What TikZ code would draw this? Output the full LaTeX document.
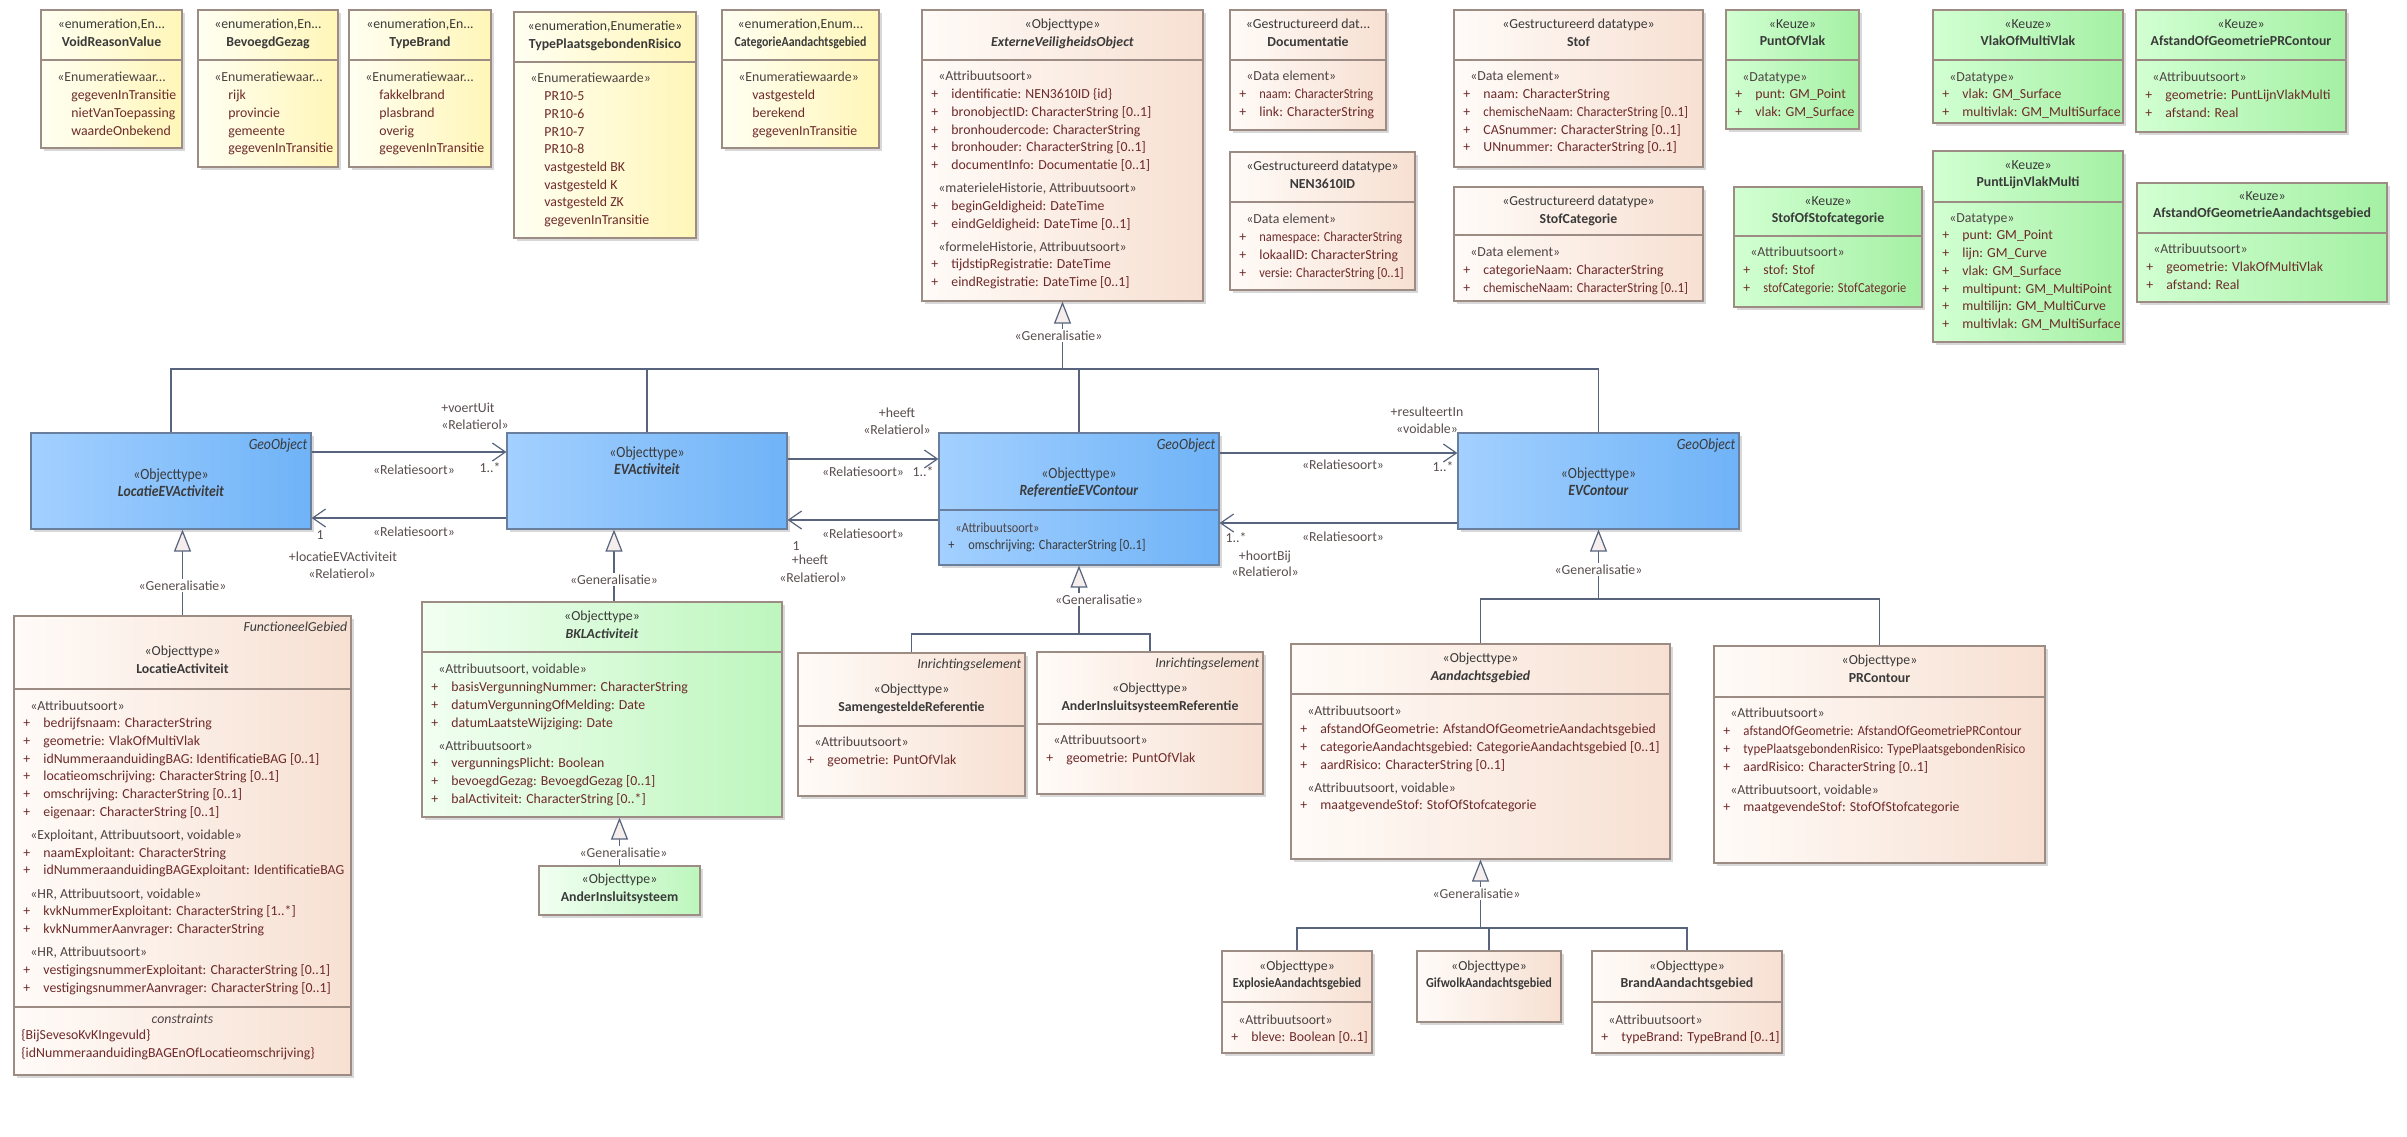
\documentclass[tikz,border=0pt]{standalone}
\usepackage{fontspec}
\setmainfont{Carlito}
\newfontfamily\narrowfont{Carlito}[FakeStretch=0.88]
\usepackage{graphicx}
\usepackage{xcolor}
\usetikzlibrary{positioning, arrows.meta, fit, shadows}
\definecolor{enumL}   {HTML}{FFFFF2}
\definecolor{enumR}   {HTML}{FFF6B8}
\definecolor{peachL}  {HTML}{FFFBF8}
\definecolor{peachR}  {HTML}{F7E0D2}
\definecolor{blueL}   {HTML}{A3D0FF}
\definecolor{blueR}   {HTML}{6FB3F7}
\definecolor{greenL}  {HTML}{F2FFF2}
\definecolor{greenR}  {HTML}{BDF6BD}
\definecolor{keuzeL}  {HTML}{D2FFD2}
\definecolor{keuzeR}  {HTML}{A4F0A4}
\definecolor{boxline} {HTML}{9C8C84}
\definecolor{blueline}{HTML}{6A7E9E}
\definecolor{namecol} {HTML}{3A3A3A}
\definecolor{attrcol} {HTML}{6E2A2A}
\definecolor{stcol}   {HTML}{4E4444}
\definecolor{connline}{HTML}{58647E}
\definecolor{lblcol}  {HTML}{5A4E4E}
\definecolor{trifill} {HTML}{F5EEEC}
\newcommand{\umlfont}{\fontsize{6.9}{8.85}\selectfont}
\newcommand{\umlnarrow}{\narrowfont\fontsize{7.8}{8.85}\selectfont}
\newcommand{\umlsmall}{\narrowfont\fontsize{7.0}{8.85}\selectfont}
\newcommand{\attr}[1]{\makebox[10pt][l]{+}#1}
\newcommand{\grp}[1]{\hspace*{3.5pt}{\color{stcol}#1}}
\newcommand{\val}[1]{\hspace*{10.5pt}#1}
\newcommand{\sqz}[2][0.9]{\scalebox{#1}[1]{#2}}
\newcommand{\umlbox}[5]{%
  \node[#2, fit={(#3) (#4)}] (#1) {};
  \draw[divline] (#1.west |- 0,#5) -- (#1.east |- 0,#5);}
\tikzset{
  umlbase/.style={draw=boxline, line width=0.6pt, inner sep=0pt,
    drop shadow={shadow xshift=1.5pt, shadow yshift=-1.5pt, opacity=0.3}},
  enumbox/.style ={umlbase, left color=enumL,  right color=enumR},
  peachbox/.style={umlbase, left color=peachL, right color=peachR},
  bluebox/.style ={umlbase, draw=blueline, left color=blueL, right color=blueR},
  greenbox/.style={umlbase, left color=greenL, right color=greenR},
  keuzebox/.style={umlbase, left color=keuzeL, right color=keuzeR},
  divline/.style={draw=boxline, line width=0.6pt},
  headtxt/.style={anchor=north, inner sep=0pt, align=center, font=\umlfont,
    text=namecol, execute at begin node=\rule{0pt}{6pt}},
  bodytxt/.style={anchor=north west, inner sep=0pt, align=left, font=\umlfont,
    text=attrcol, execute at begin node=\rule{0pt}{6pt}},
  tagtxt/.style={anchor=north east, inner sep=0pt, font=\umlfont\itshape,
    text=namecol, execute at begin node=\rule{0pt}{6pt}},
  lbl/.style={inner sep=0pt, font=\umlfont, text=lblcol},
  genlbl/.style={lbl, fill=white, inner sep=1pt},
  conn/.style={draw=connline, line width=0.6pt},
  genarr/.style={conn, -{Triangle[length=11pt, width=8.5pt, fill=trifill]}},
  assoc/.style={conn, -{Straight Barb[length=6.5pt, width=9pt]}},
  assocback/.style={conn, {Straight Barb[length=6.5pt, width=9pt]}-}
}
\begin{document}
\begin{tikzpicture}[x=0.5pt, y=-0.5pt]

  \path[fill=white] (0,0) rectangle (2407,1136);
  \useasboundingbox (0,0) rectangle (2407,1136);

  %% ENUMERATIONS
  \umlbox{voidreason}{enumbox}{41,10}{182,148}{60}
  \node[headtxt] (voidreason-hd) at (voidreason.north |- 0,19)
    {«enumeration,En...\\\textbf{VoidReasonValue}};
  \node[bodytxt] (voidreason-bd) at (50,72)
    {\grp{«Enumeratiewaar...}\\\val{gegevenInTransitie}\\\val{nietVanToepassing}\\\val{waardeOnbekend}};

  \umlbox{bevoegd}{enumbox}{198,10}{338,167}{60}
  \node[headtxt] (bevoegd-hd) at (bevoegd.north |- 0,19)
    {«enumeration,En...\\\textbf{BevoegdGezag}};
  \node[bodytxt] (bevoegd-bd) at (207,72)
    {\grp{«Enumeratiewaar...}\\\val{rijk}\\\val{provincie}\\\val{gemeente}\\\val{gegevenInTransitie}};

  \umlbox{typebrand}{enumbox}{349,10}{491,167}{60}
  \node[headtxt] (typebrand-hd) at (typebrand.north |- 0,19)
    {«enumeration,En...\\\textbf{TypeBrand}};
  \node[bodytxt] (typebrand-bd) at (358,72)
    {\grp{«Enumeratiewaar...}\\\val{fakkelbrand}\\\val{plasbrand}\\\val{overig}\\\val{gegevenInTransitie}};

  \umlbox{typepr}{enumbox}{514,12}{696,238}{62}
  \node[headtxt] (typepr-hd) at (typepr.north |- 0,21)
    {«enumeration,Enumeratie»\\\textbf{TypePlaatsgebondenRisico}};
  \node[bodytxt] (typepr-bd) at (523,73)
    {\grp{«Enumeratiewaarde»}\\\val{PR10-5}\\\val{PR10-6}\\\val{PR10-7}\\\val{PR10-8}\\
     \val{vastgesteld BK}\\\val{vastgesteld K}\\\val{vastgesteld ZK}\\\val{gegevenInTransitie}};

  \umlbox{catgebied}{enumbox}{722,10}{879,148}{60}
  \node[headtxt] (catgebied-hd) at (catgebied.north |- 0,19)
    {«enumeration,Enum...\\\sqz[0.86]{\textbf{CategorieAandachtsgebied}}};
  \node[bodytxt] (catgebied-bd) at (731,72)
    {\grp{«Enumeratiewaarde»}\\\val{vastgesteld}\\\val{berekend}\\\val{gegevenInTransitie}};

  %% EXTERNE VEILIGHEIDS OBJECT AND DATATYPES
  \umlbox{evo}{peachbox}{922,10}{1203,301}{60}
  \node[headtxt] (evo-hd) at (evo.north |- 0,19)
    {«Objecttype»\\\textbf{\textit{ExterneVeiligheidsObject}}};
  \node[bodytxt] (evo-bd) at (931,71)
    {\grp{«Attribuutsoort»}\\
     \attr{identificatie: NEN3610ID \{id\}}\\
     \attr{bronobjectID: CharacterString [0..1]}\\
     \attr{bronhoudercode: CharacterString}\\
     \attr{bronhouder: CharacterString [0..1]}\\
     \attr{documentInfo: Documentatie [0..1]}\\[2.75pt]
     \grp{«materieleHistorie, Attribuutsoort»}\\
     \attr{beginGeldigheid: DateTime}\\
     \attr{eindGeldigheid: DateTime [0..1]}\\[2.75pt]
     \grp{«formeleHistorie, Attribuutsoort»}\\
     \attr{tijdstipRegistratie: DateTime}\\
     \attr{eindRegistratie: DateTime [0..1]}};

  \umlbox{docu}{peachbox}{1230,10}{1386,130}{60}
  \node[headtxt] (docu-hd) at (docu.north |- 0,19)
    {«Gestructureerd dat...\\\textbf{Documentatie}};
  \node[bodytxt] (docu-bd) at (1239,71)
    {\grp{«Data element»}\\\attr{\sqz{naam: CharacterString}}\\\attr{link: CharacterString}};

  \umlbox{nen}{peachbox}{1230,152}{1415,290}{202}
  \node[headtxt] (nen-hd) at (nen.north |- 0,161)
    {«Gestructureerd datatype»\\\textbf{NEN3610ID}};
  \node[bodytxt] (nen-bd) at (1239,214)
    {\grp{«Data element»}\\\attr{\sqz{namespace: CharacterString}}\\
     \attr{lokaalID: CharacterString}\\\attr{\sqz{versie: CharacterString [0..1]}}};

  \umlbox{stof}{peachbox}{1454,10}{1703,167}{60}
  \node[headtxt] (stof-hd) at (stof.north |- 0,19)
    {«Gestructureerd datatype»\\\textbf{Stof}};
  \node[bodytxt] (stof-bd) at (1463,71)
    {\grp{«Data element»}\\\attr{naam: CharacterString}\\
     \attr{\sqz[0.93]{chemischeNaam: CharacterString [0..1]}}\\
     \attr{CASnummer: CharacterString [0..1]}\\\attr{UNnummer: CharacterString [0..1]}};

  \umlbox{stofcat}{peachbox}{1454,187}{1703,301}{235}
  \node[headtxt] (stofcat-hd) at (stofcat.north |- 0,196)
    {«Gestructureerd datatype»\\\textbf{StofCategorie}};
  \node[bodytxt] (stofcat-bd) at (1463,247)
    {\grp{«Data element»}\\\attr{categorieNaam: CharacterString}\\
     \attr{\sqz[0.93]{chemischeNaam: CharacterString [0..1]}}};

  %% KEUZE TYPES
  \umlbox{puntvlak}{keuzebox}{1726,10}{1859,129}{60}
  \node[headtxt] (puntvlak-hd) at (puntvlak.north |- 0,19)
    {«Keuze»\\\textbf{PuntOfVlak}};
  \node[bodytxt] (puntvlak-bd) at (1735,72)
    {\grp{«Datatype»}\\\attr{punt: GM\_Point}\\\attr{vlak: GM\_Surface}};

  \umlbox{vlakmulti}{keuzebox}{1933,10}{2123,123}{60}
  \node[headtxt] (vlakmulti-hd) at (vlakmulti.north |- 0,19)
    {«Keuze»\\\textbf{VlakOfMultiVlak}};
  \node[bodytxt] (vlakmulti-bd) at (1942,72)
    {\grp{«Datatype»}\\\attr{vlak: GM\_Surface}\\\attr{multivlak: GM\_MultiSurface}};

  \umlbox{afstandpr}{keuzebox}{2136,10}{2346,132}{60}
  \node[headtxt] (afstandpr-hd) at (afstandpr.north |- 0,19)
    {«Keuze»\\\textbf{AfstandOfGeometriePRContour}};
  \node[bodytxt] (afstandpr-bd) at (2145,72)
    {\grp{«Attribuutsoort»}\\\attr{geometrie: PuntLijnVlakMulti}\\\attr{afstand: Real}};

  \umlbox{stofofcat}{keuzebox}{1734,187}{1922,307}{236}
  \node[headtxt] (stofofcat-hd) at (stofofcat.north |- 0,196)
    {«Keuze»\\\textbf{StofOfStofcategorie}};
  \node[bodytxt] (stofofcat-bd) at (1743,247)
    {\grp{«Attribuutsoort»}\\\attr{stof: Stof}\\\attr{\sqz{stofCategorie: StofCategorie}}};

  \umlbox{puntlijn}{keuzebox}{1933,151}{2123,342}{202}
  \node[headtxt] (puntlijn-hd) at (puntlijn.north |- 0,160)
    {«Keuze»\\\textbf{PuntLijnVlakMulti}};
  \node[bodytxt] (puntlijn-bd) at (1942,213)
    {\grp{«Datatype»}\\\attr{punt: GM\_Point}\\\attr{lijn: GM\_Curve}\\\attr{vlak: GM\_Surface}\\
     \attr{multipunt: GM\_MultiPoint}\\\attr{multilijn: GM\_MultiCurve}\\\attr{multivlak: GM\_MultiSurface}};

  \umlbox{afstandag}{keuzebox}{2137,183}{2387,302}{233}
  \node[headtxt] (afstandag-hd) at (afstandag.north |- 0,191)
    {«Keuze»\\\textbf{AfstandOfGeometrieAandachtsgebied}};
  \node[bodytxt] (afstandag-bd) at (2146,244)
    {\grp{«Attribuutsoort»}\\\attr{geometrie: VlakOfMultiVlak}\\\attr{afstand: Real}};

  %% GEO OBJECTS (MIDDLE ROW)
  \node[bluebox, fit={(31,433) (311,529)}] (locev) {};
  \node[tagtxt, font=\umlnarrow\itshape] (locev-tag) at ([xshift=-2pt, yshift=-2.5pt]locev.north east) {GeoObject};
  \node[headtxt, font=\umlnarrow] (locev-hd) at (locev.north |- 0,468)
    {«Objecttype»\\\textbf{\textit{LocatieEVActiviteit}}};

  \node[bluebox, fit={(507,433) (787,529)}] (evact) {};
  \node[headtxt, font=\umlnarrow] (evact-hd) at (evact.north |- 0,446)
    {«Objecttype»\\\textbf{\textit{EVActiviteit}}};

  \node[bluebox, fit={(939,433) (1219,565)}] (refevc) {};
  \draw[draw=blueline, line width=0.6pt] (refevc.west |- 0,510) -- (refevc.east |- 0,510);
  \node[tagtxt, font=\umlnarrow\itshape] (refevc-tag) at ([xshift=-2pt, yshift=-2.5pt]refevc.north east) {GeoObject};
  \node[headtxt, font=\umlnarrow] (refevc-hd) at (refevc.north |- 0,467)
    {«Objecttype»\\\textbf{\textit{ReferentieEVContour}}};
  \node[bodytxt, font=\umlsmall, text=namecol] (refevc-bd) at (948,522)
    {\grp{«Attribuutsoort»}\\\attr{omschrijving: CharacterString [0..1]}};

  \node[bluebox, fit={(1458,433) (1739,529)}] (evcontour) {};
  \node[tagtxt, font=\umlnarrow\itshape] (evcontour-tag) at ([xshift=-2pt, yshift=-2.5pt]evcontour.north east) {GeoObject};
  \node[headtxt, font=\umlnarrow] (evcontour-hd) at (evcontour.north |- 0,467)
    {«Objecttype»\\\textbf{\textit{EVContour}}};

  %% LOWER CLASSES
  \umlbox{locact}{peachbox}{14,616}{351,1075}{689}
  \draw[divline] (locact.west |- 0,1007) -- (locact.east |- 0,1007);
  \node[tagtxt] (locact-tag) at ([xshift=-2pt, yshift=-2pt]locact.north east) {FunctioneelGebied};
  \node[headtxt] (locact-hd) at (locact.north |- 0,646)
    {«Objecttype»\\\textbf{LocatieActiviteit}};
  \node[bodytxt] (locact-bd) at (23,700)
    {\grp{«Attribuutsoort»}\\
     \attr{bedrijfsnaam: CharacterString}\\
     \attr{geometrie: VlakOfMultiVlak}\\
     \attr{idNummeraanduidingBAG: IdentificatieBAG [0..1]}\\
     \attr{locatieomschrijving: CharacterString [0..1]}\\
     \attr{omschrijving: CharacterString [0..1]}\\
     \attr{eigenaar: CharacterString [0..1]}\\[2.75pt]
     \grp{«Exploitant, Attribuutsoort, voidable»}\\
     \attr{naamExploitant: CharacterString}\\
     \attr{idNummeraanduidingBAGExploitant: IdentificatieBAG}\\[2.75pt]
     \grp{«HR, Attribuutsoort, voidable»}\\
     \attr{kvkNummerExploitant: CharacterString [1..*]}\\
     \attr{kvkNummerAanvrager: CharacterString}\\[2.75pt]
     \grp{«HR, Attribuutsoort»}\\
     \attr{vestigingsnummerExploitant: CharacterString [0..1]}\\
     \attr{vestigingsnummerAanvrager: CharacterString [0..1]}};
  \node[headtxt, text=stcol] (locact-ct) at (locact.north |- 0,1011) {\textit{constraints}};
  \node[bodytxt] (locact-cs) at (21,1029)
    {\{BijSevesoKvKIngevuld\}\\\{idNummeraanduidingBAGEnOfLocatieomschrijving\}};

  \umlbox{bkl}{greenbox}{422,602}{782,817}{652}
  \node[headtxt] (bkl-hd) at (bkl.north |- 0,611)
    {«Objecttype»\\\textbf{\textit{BKLActiviteit}}};
  \node[bodytxt] (bkl-bd) at (431,664)
    {\grp{«Attribuutsoort, voidable»}\\
     \attr{basisVergunningNummer: CharacterString}\\
     \attr{datumVergunningOfMelding: Date}\\
     \attr{datumLaatsteWijziging: Date}\\[2.75pt]
     \grp{«Attribuutsoort»}\\
     \attr{vergunningsPlicht: Boolean}\\
     \attr{bevoegdGezag: BevoegdGezag [0..1]}\\
     \attr{balActiviteit: CharacterString [0..*]}};

  \node[greenbox, fit={(539,866) (700,915)}] (ais) {};
  \node[headtxt] (ais-hd) at (ais.north |- 0,874)
    {«Objecttype»\\\textbf{AnderInsluitsysteem}};

  \umlbox{samref}{peachbox}{798,653}{1025,796}{726}
  \node[tagtxt] (samref-tag) at ([xshift=-2pt, yshift=-2pt]samref.north east) {Inrichtingselement};
  \node[headtxt] (samref-hd) at (samref.north |- 0,684)
    {«Objecttype»\\\textbf{SamengesteldeReferentie}};
  \node[bodytxt] (samref-bd) at (807,737)
    {\grp{«Attribuutsoort»}\\\attr{geometrie: PuntOfVlak}};

  \umlbox{airef}{peachbox}{1037,652}{1263,794}{724}
  \node[tagtxt] (airef-tag) at ([xshift=-2pt, yshift=-2pt]airef.north east) {Inrichtingselement};
  \node[headtxt] (airef-hd) at (airef.north |- 0,683)
    {«Objecttype»\\\textbf{AnderInsluitsysteemReferentie}};
  \node[bodytxt] (airef-bd) at (1046,735)
    {\grp{«Attribuutsoort»}\\\attr{geometrie: PuntOfVlak}};

  \umlbox{aandacht}{peachbox}{1291,644}{1670,859}{694}
  \node[headtxt] (aandacht-hd) at (aandacht.north |- 0,653)
    {«Objecttype»\\\textbf{\textit{Aandachtsgebied}}};
  \node[bodytxt] (aandacht-bd) at (1300,706)
    {\grp{«Attribuutsoort»}\\
     \attr{afstandOfGeometrie: AfstandOfGeometrieAandachtsgebied}\\
     \attr{categorieAandachtsgebied: CategorieAandachtsgebied [0..1]}\\
     \attr{aardRisico: CharacterString [0..1]}\\[2.75pt]
     \grp{«Attribuutsoort, voidable»}\\
     \attr{maatgevendeStof: StofOfStofcategorie}};

  \umlbox{prcontour}{peachbox}{1714,646}{2045,863}{697}
  \node[headtxt] (prcontour-hd) at (prcontour.north |- 0,655)
    {«Objecttype»\\\textbf{PRContour}};
  \node[bodytxt] (prcontour-bd) at (1723,708)
    {\grp{«Attribuutsoort»}\\
     \attr{\sqz[0.93]{afstandOfGeometrie: AfstandOfGeometriePRContour}}\\
     \attr{\sqz[0.93]{typePlaatsgebondenRisico: TypePlaatsgebondenRisico}}\\
     \attr{aardRisico: CharacterString [0..1]}\\[2.75pt]
     \grp{«Attribuutsoort, voidable»}\\
     \attr{maatgevendeStof: StofOfStofcategorie}};

  \umlbox{explosie}{peachbox}{1222,951}{1372,1053}{1002}
  \node[headtxt] (explosie-hd) at (explosie.north |- 0,960)
    {«Objecttype»\\\sqz[0.88]{\textbf{ExplosieAandachtsgebied}}};
  \node[bodytxt] (explosie-bd) at (1231,1014)
    {\grp{«Attribuutsoort»}\\\attr{bleve: Boolean [0..1]}};

  \node[peachbox, fit={(1417,951) (1561,1022)}] (gifwolk) {};
  \node[headtxt] (gifwolk-hd) at (gifwolk.north |- 0,960)
    {«Objecttype»\\\sqz[0.88]{\textbf{GifwolkAandachtsgebied}}};

  \umlbox{brand}{peachbox}{1592,951}{1782,1053}{1002}
  \node[headtxt] (brand-hd) at (brand.north |- 0,960)
    {«Objecttype»\\\textbf{BrandAandachtsgebied}};
  \node[bodytxt] (brand-bd) at (1601,1014)
    {\grp{«Attribuutsoort»}\\\attr{typeBrand: TypeBrand [0..1]}};

  %% GENERALISATIONS
  \coordinate (evojoin) at (evo.south |- 0,369);
  \draw[conn] (locev.north) |- (evojoin) -| (evcontour.north);
  \draw[conn] (evact.north) -- (evact.north |- evojoin);
  \draw[conn] (refevc.north) -- (refevc.north |- evojoin);
  \draw[genarr] (evojoin) -- (evo.south);
  \node[genlbl] (evo-gen) at ([xshift=-2pt, yshift=-17pt]evo.south) {«Generalisatie»};

  \draw[genarr] (locact.north) -- (locact.north |- locev.south);
  \node[genlbl] (locact-gen) at ([yshift=15pt]locact.north) {«Generalisatie»};

  \draw[genarr] ([xshift=6pt]bkl.north) -- ([xshift=6pt]bkl.north |- evact.south);
  \node[genlbl] (bkl-gen) at ([xshift=6pt, yshift=11pt]bkl.north) {«Generalisatie»};

  \draw[genarr] (ais.north) -- (ais.north |- bkl.south);
  \node[genlbl] (ais-gen) at ([xshift=2pt, yshift=6.5pt]ais.north) {«Generalisatie»};

  \coordinate (refjoin) at (refevc.south |- 0,634);
  \draw[conn] (samref.north) |- (refjoin) -| (airef.north);
  \draw[genarr] (refjoin) -- (refevc.south);
  \node[genlbl] (refevc-gen) at ([xshift=10pt, yshift=-17pt]refevc.south) {«Generalisatie»};

  \coordinate (evcjoin) at (evcontour.south |- 0,599);
  \draw[conn] (aandacht.north) |- (evcjoin) -| (prcontour.north);
  \draw[genarr] (evcjoin) -- (evcontour.south);
  \node[genlbl] (evcontour-gen) at ([yshift=-20pt]evcontour.south) {«Generalisatie»};

  \coordinate (aandjoin) at (aandacht.south |- 0,928);
  \draw[conn] (explosie.north) |- (aandjoin) -| (brand.north);
  \draw[conn] (gifwolk.north) -- (gifwolk.north |- aandjoin);
  \draw[genarr] (aandjoin) -- (aandacht.south);
  \node[genlbl] (aandacht-gen) at ([xshift=-2pt, yshift=-17pt]aandacht.south) {«Generalisatie»};

  %% ASSOCIATIONS
  \draw[assoc] ([yshift=14.5pt]locev.east) -- ([yshift=14.5pt]evact.west);
  \draw[assoc] ([yshift=-18.5pt]evact.west) -- ([yshift=-18.5pt]locev.east);
  \draw[assoc] ([yshift=11pt]evact.east) coordinate (heeftA) -- (heeftA -| refevc.west);
  \draw[assocback] ([yshift=-19.5pt]evact.east) coordinate (heeftB) -- (heeftB -| refevc.west);
  \draw[assocback] ([yshift=14pt]evcontour.west) coordinate (resultA) -- (resultA -| refevc.east);
  \draw[assoc] ([yshift=-21pt]evcontour.west) coordinate (hoortB) -- (hoortB -| refevc.east);

  \node[lbl] (voert-rl)  at (468,408) {+voertUit};
  \node[lbl] (voert-st)  at (475,425) {«Relatierol»};
  \node[lbl] (voert-rs)  at (414,470) {«Relatiesoort»};
  \node[lbl] (voert-m)   at (490,468) {1..*};
  \node[lbl] (loc-rs)    at (414,532) {«Relatiesoort»};
  \node[lbl] (loc-m)     at (320,535) {1};
  \node[lbl] (loc-rl)    at (343,557) {+locatieEVActiviteit};
  \node[lbl] (loc-st)    at (342,574) {«Relatierol»};
  \node[lbl] (heeftA-rl) at (897,413) {+heeft};
  \node[lbl] (heeftA-st) at (897,430) {«Relatierol»};
  \node[lbl] (heeftA-rs) at (863,472) {«Relatiesoort»};
  \node[lbl] (heeftA-m)  at (923,472) {1..*};
  \node[lbl] (heeftB-rs) at (863,534) {«Relatiesoort»};
  \node[lbl] (heeftB-m)  at (796,546) {1};
  \node[lbl] (heeftB-rl) at (810,560) {+heeft};
  \node[lbl] (heeftB-st) at (813,578) {«Relatierol»};
  \node[lbl] (result-rl) at (1427,412) {+resulteertIn};
  \node[lbl] (result-st) at (1427,429) {«voidable»};
  \node[lbl] (result-rs) at (1343,465) {«Relatiesoort»};
  \node[lbl] (result-m)  at (1443,467) {1..*};
  \node[lbl] (hoort-rs)  at (1343,537) {«Relatiesoort»};
  \node[lbl] (hoort-m)   at (1236,538) {1..*};
  \node[lbl] (hoort-rl)  at (1265,557) {+hoortBij};
  \node[lbl] (hoort-st)  at (1265,572) {«Relatierol»};

\end{tikzpicture}
\end{document}
